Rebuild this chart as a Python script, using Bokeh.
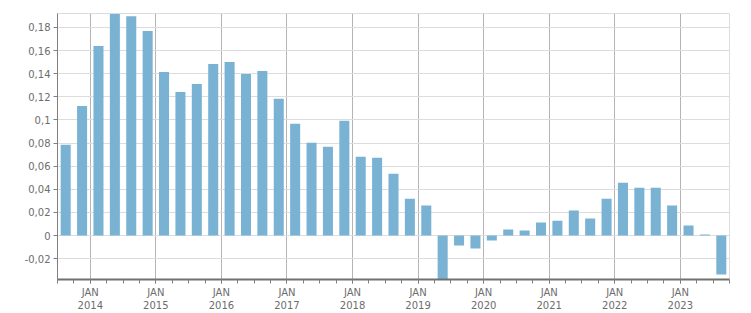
from bokeh.plotting import figure
from bokeh.models import Range1d, FixedTicker, CustomJSTickFormatter, ColumnDataSource
from bokeh.embed import file_html
from bokeh.resources import INLINE

quarters = [
    "2013 Q3", "2013 Q4",
    "2014 Q1", "2014 Q2", "2014 Q3", "2014 Q4",
    "2015 Q1", "2015 Q2", "2015 Q3", "2015 Q4",
    "2016 Q1", "2016 Q2", "2016 Q3", "2016 Q4",
    "2017 Q1", "2017 Q2", "2017 Q3", "2017 Q4",
    "2018 Q1", "2018 Q2", "2018 Q3", "2018 Q4",
    "2019 Q1", "2019 Q2", "2019 Q3", "2019 Q4",
    "2020 Q1", "2020 Q2", "2020 Q3", "2020 Q4",
    "2021 Q1", "2021 Q2", "2021 Q3", "2021 Q4",
    "2022 Q1", "2022 Q2", "2022 Q3", "2022 Q4",
    "2023 Q1", "2023 Q2", "2023 Q3",
]
values = [
    0.0785, 0.1121,
    0.1639, 0.1915, 0.1897, 0.1768,
    0.1414, 0.1242, 0.1311, 0.1483,
    0.1501, 0.1397, 0.1423, 0.1182,
    0.0966, 0.0802, 0.0768, 0.0992,
    0.0681, 0.0673, 0.0535, 0.0319,
    0.0259, -0.0420, -0.0086, -0.0112,
    -0.0043, 0.0052, 0.0043, 0.0112,
    0.0129, 0.0216, 0.0147, 0.0319,
    0.0457, 0.0414, 0.0414, 0.0259,
    0.0086, 0.0009, -0.0336,
]
year_ticks = [2014, 2015, 2016, 2017, 2018, 2019, 2020, 2021, 2022, 2023]
y_ticks = [-0.02, 0.0, 0.02, 0.04, 0.06, 0.08, 0.10, 0.12, 0.14, 0.16, 0.18]

# quarter label -> fractional year at mid-quarter
xs = [int(q[:4]) + (int(q[-1]) - 1) * 0.25 + 0.125 for q in quarters]
src = ColumnDataSource(dict(x=xs, top=values, q=quarters))

first_year = int(quarters[0][:4]) + (int(quarters[0][-1]) - 1) * 0.25
last_year = int(quarters[-1][:4]) + int(quarters[-1][-1]) * 0.25

p = figure(width=751, height=313, output_backend="svg", toolbar_location=None,
           x_range=Range1d(first_year, last_year), y_range=Range1d(-0.038, 0.192),
           min_border_left=57, min_border_right=22, min_border_top=13, min_border_bottom=33)
p.background_fill_color = "white"
p.border_fill_color = "white"
p.outline_line_color = "#dcdcdc"
p.outline_line_width = 1

p.vbar(x="x", top="top", bottom=0, width=0.153, source=src,
       fill_color="#7ab2d4", line_color=None)

minor = [first_year + i * 0.25 for i in range(int((last_year - first_year) / 0.25) + 1)]
p.xaxis.ticker = FixedTicker(ticks=year_ticks, minor_ticks=minor)
p.xaxis.formatter = CustomJSTickFormatter(code='return "JAN\\n" + Math.round(tick);')
p.yaxis.ticker = FixedTicker(ticks=y_ticks)
p.yaxis.formatter = CustomJSTickFormatter(code="""
let s = tick.toFixed(2);
if (s.indexOf('.') >= 0) { s = s.replace(/0+$/, '').replace(/\\.$/, ''); }
if (s === '-0') s = '0';
return s.replace('.', ',');
""")

for ax in (p.xaxis, p.yaxis):
    ax.major_label_text_font = "DejaVu Sans"
    ax.major_label_text_font_size = "10px"
    ax.major_label_text_color = "#6d6d6d"
    ax.major_tick_line_color = "#808080"
    ax.minor_tick_line_color = "#808080"
    ax.major_tick_in = 0
    ax.major_tick_out = 4
    ax.minor_tick_in = 0
    ax.minor_tick_out = 4
    ax.major_label_standoff = 3

p.xaxis.axis_line_color = "#707070"
p.xaxis.axis_line_width = 2
p.yaxis.axis_line_color = "#808080"
p.yaxis.axis_line_width = 1
p.yaxis.minor_tick_line_color = None

p.xgrid.grid_line_color = "#b4b4b4"
p.xgrid.grid_line_width = 1
p.ygrid.grid_line_color = "#dcdcdc"
p.ygrid.grid_line_width = 1

open("out.html", "w").write(file_html(p, INLINE))
